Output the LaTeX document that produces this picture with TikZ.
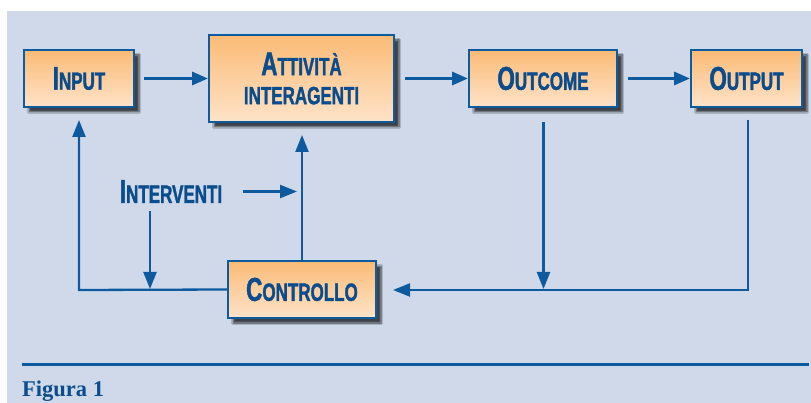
\documentclass[tikz,border=0pt]{standalone}
\usepackage{fontspec}
\usetikzlibrary{arrows.meta,shadows.blur}
\newfontfamily\boxfont{Liberation Sans}[FakeStretch=0.68, BoldFeatures={FakeBold=1.4}]
\newfontfamily\figfont{Liberation Serif}
\definecolor{bord}{HTML}{0E5A9E}
\definecolor{txtblue}{HTML}{0B4C8C}
\definecolor{bgblue}{HTML}{CFD9EA}
\definecolor{orT}{HTML}{FBBB76}
\definecolor{orB}{HTML}{FEE3C8}
\newcommand{\bsc}[2]{{\fontsize{33}{33}\selectfont #1}{\fontsize{25}{29}\selectfont #2}}
\tikzset{
  blk/.style={draw=bord, line width=2pt, top color=orT, bottom color=orB,
    inner sep=0pt, align=center, text=txtblue,
    font=\boxfont\bfseries\fontsize{25}{29}\selectfont,
    blur shadow={shadow xshift=5pt, shadow yshift=-5pt, shadow blur steps=6, shadow opacity=70}},
  fwd/.style={draw=bord, line width=3.2pt, -{Triangle[length=16pt,width=13pt]}},
  fba/.style={draw=bord, line width=2.3pt, -{Triangle[length=17pt,width=13pt]}},
}
\begin{document}
\begin{tikzpicture}[x=1pt,y=-1pt]
\useasboundingbox (0,0) rectangle (811,403);
\fill[white] (0,0) rectangle (811,403);
\fill[bgblue] (7,11) rectangle (811,403);

\node[blk, minimum width=110pt, minimum height=57pt] (input) at (79,78.5) {\bsc{I}{NPUT}};
\node[blk, minimum width=185pt, minimum height=87pt] (att) at (301.5,78.5) {\bsc{A}{TTIVITÀ}\\INTERAGENTI};
\node[blk, minimum width=148pt, minimum height=57pt] (outc) at (543,78.5) {\bsc{O}{UTCOME}};
\node[blk, minimum width=111pt, minimum height=57pt] (outp) at (746.5,78.5) {\bsc{O}{UTPUT}};
\node[blk, minimum width=148pt, minimum height=57pt] (ctrl) at (302,289.5) {\bsc{C}{ONTROLLO}};

\node[text=txtblue, font=\boxfont\bfseries\fontsize{25}{29}\selectfont, inner sep=0pt] (interv) at (171,191.5) {\bsc{I}{NTERVENTI}};

% forward arrows
\draw[fwd, shorten <=9pt] (input.east) -- (att.west);
\draw[fwd, shorten <=10pt] (att.east) -- (outc.west);
\draw[fwd, shorten <=10pt] (outc.east) -- (outp.west);

% feedback
\coordinate (jout) at (748,290);
\coordinate (jin) at (79,290);
\coordinate (oS) at (748,120);
\coordinate (cS) at (543.5,122);
\coordinate (cJ) at (543.5,289);
\coordinate (ctrlR) at (393,290);
\draw[fba] (oS) -- (jout) -- (ctrlR);
\draw[fba] (cS) -- (cJ);
\draw[fba] (ctrl.west) -- (jin) -- (79,120);
\draw[fba] (ctrl.north) -- (302,135);

% interventi arrows
\coordinate (ivR) at (243,191.5);
\coordinate (ivRt) at (297,191.5);
\coordinate (ivD) at (150,211);
\coordinate (ivDt) at (150,289);
\draw[fba] (ivR) -- (ivRt);
\draw[fba] (ivD) -- (ivDt);

% bottom rule and caption
\draw[bord, line width=3pt] (22,364) -- (809,364);
\node[anchor=base west, inner sep=0pt, text=txtblue, font=\figfont\bfseries\fontsize{22.5}{24}\selectfont] (cap) at (22,396) {Figura 1};
\end{tikzpicture}
\end{document}
